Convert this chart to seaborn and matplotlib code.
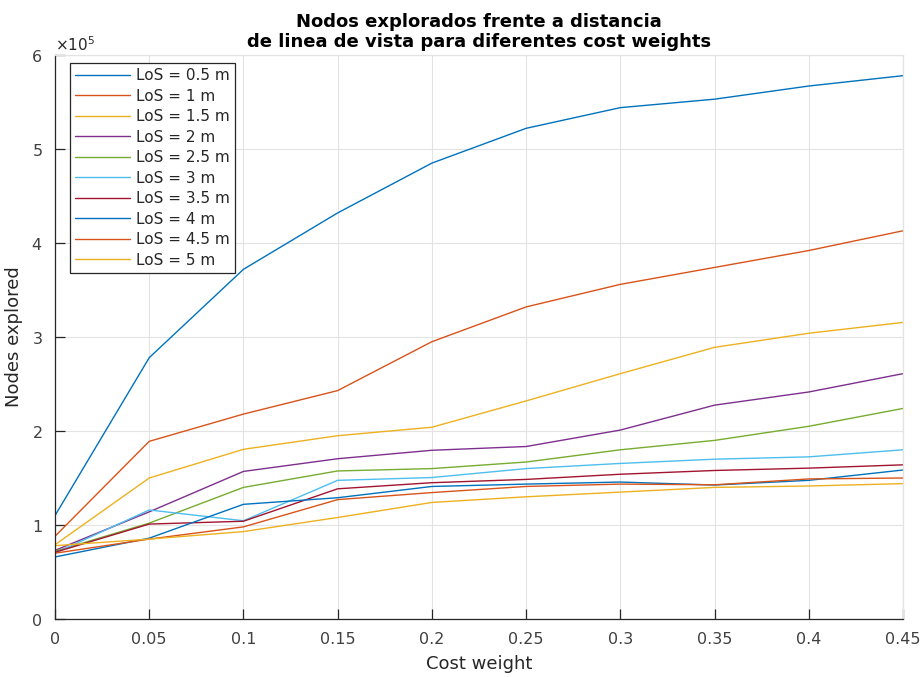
import numpy as np
import pandas as pd
import matplotlib
matplotlib.use("Agg")
import matplotlib.pyplot as plt
import seaborn as sns
from matplotlib.ticker import ScalarFormatter

sns.set_theme(style="whitegrid")
plt.rcParams["font.family"] = ["DejaVu Sans"]

# ------------------------------------------------
# DATA
# ------------------------------------------------
cost_weights = [0, 0.05, 0.1, 0.15, 0.2, 0.25, 0.3, 0.35, 0.4, 0.45]
los_labels = ["LoS = 0.5 m", "LoS = 1 m", "LoS = 1.5 m", "LoS = 2 m", "LoS = 2.5 m",
              "LoS = 3 m", "LoS = 3.5 m", "LoS = 4 m", "LoS = 4.5 m", "LoS = 5 m"]

los_05 = [110000, 278000, 372000, 432000, 485000, 522000, 544000, 553000, 567000, 578000]
los_10 = [88000, 189000, 218000, 243000, 295000, 332000, 356000, 374000, 392000, 413000]
los_15 = [79000, 150000, 180500, 195000, 204000, 232000, 261000, 289000, 304000, 315500]
los_20 = [73000, 114000, 157000, 170500, 179500, 183500, 201000, 227500, 241500, 261000]
los_25 = [72000, 102000, 140000, 157500, 160000, 167000, 180000, 190000, 205000, 224000]
los_30 = [70000, 116000, 104500, 147500, 150500, 160000, 165500, 170000, 172500, 180000]
los_35 = [71000, 101000, 104000, 138500, 145000, 148500, 154000, 158000, 160500, 164000]
los_40 = [66000, 86000, 122000, 129000, 141000, 143500, 145700, 142500, 147500, 158500]
los_45 = [70000, 85000, 98000, 127000, 134500, 141000, 143500, 142800, 149000, 150000]
los_50 = [78000, 85000, 93000, 108000, 124000, 130000, 135000, 140000, 141500, 144000]

series = [los_05, los_10, los_15, los_20, los_25, los_30, los_35, los_40, los_45, los_50]

df = pd.DataFrame({
    "cost_weight": cost_weights * len(los_labels),
    "nodes": [v for s in series for v in s],
    "los": [lab for lab in los_labels for _ in cost_weights],
})

matlab_colors = ["#0072BD", "#D95319", "#EDB120", "#7E2F8E", "#77AC30",
                 "#4DBEEE", "#A2142F", "#0072BD", "#D95319", "#EDB120"]

# ------------------------------------------------
# PLOT
# ------------------------------------------------
fig = plt.figure(figsize=(9.23, 6.77), dpi=100)
ax = fig.add_axes([55 / 923, 1 - 619 / 677, 848 / 923, 564 / 677])

sns.lineplot(data=df, x="cost_weight", y="nodes", hue="los",
             palette=matlab_colors, linewidth=1.0, ax=ax)

ax.set_xlim(0, 0.45)
ax.set_ylim(0, 600000)
ax.set_xticks(cost_weights)
ax.set_xticklabels(["0", "0.05", "0.1", "0.15", "0.2", "0.25", "0.3", "0.35", "0.4", "0.45"])
ax.set_yticks(np.arange(0, 600001, 100000))

fmt = ScalarFormatter(useMathText=True)
fmt.set_powerlimits((0, 0))
ax.yaxis.set_major_formatter(fmt)
ax.yaxis.get_offset_text().set_fontsize(11)
ax.yaxis.get_offset_text().set_color("#404040")

ax.set_facecolor("white")
ax.grid(True, color="#e3e3e3", linewidth=0.8)
for side in ["left", "bottom"]:
    ax.spines[side].set_color("#262626")
    ax.spines[side].set_linewidth(0.9)
for side in ["top", "right"]:
    ax.spines[side].set_color("#e3e3e3")
    ax.spines[side].set_linewidth(0.9)
ax.tick_params(axis="both", direction="in", length=7, width=0.9,
               colors="#262626", labelsize=11.5, top=False, right=False,
               bottom=True, left=True, pad=9)
for lab in ax.get_xticklabels() + ax.get_yticklabels():
    lab.set_color("#404040")

ax.set_xlabel("Cost weight", fontsize=13, color="#262626", labelpad=6)
ax.set_ylabel("Nodes explored", fontsize=13, color="#262626", labelpad=6)
ax.set_title("Nodos explorados frente a distancia\nde linea de vista para diferentes cost weights",
             fontsize=13, fontweight="bold", color="black", pad=6, linespacing=1.1)

leg = ax.legend(loc="upper left", bbox_to_anchor=(15 / 848, 1 - 8 / 564),
                fontsize=11, frameon=True, fancybox=False,
                framealpha=1, edgecolor="#262626", handlelength=3.6,
                borderpad=0.35, labelspacing=0.36, handletextpad=0.35,
                borderaxespad=0.0)
leg.get_frame().set_linewidth(0.9)
for t in leg.get_texts():
    t.set_color("#262626")

fig.savefig("out.png", dpi=100)
